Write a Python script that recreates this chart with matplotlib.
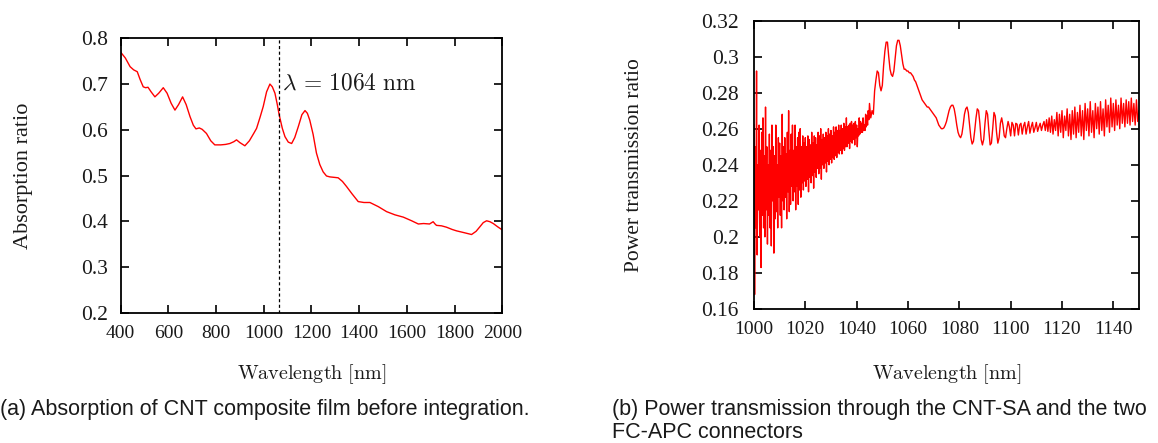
import matplotlib
matplotlib.use("Agg")
import matplotlib.pyplot as plt
import numpy as np

plt.rcParams['mathtext.fontset'] = 'cm'
plt.rcParams['font.family'] = ['Liberation Serif', 'DejaVu Serif']

# --- (a) absorption spectrum of the CNT film ---
abs_wl = [400, 420, 440, 455, 470, 482, 495, 505, 515, 528, 544, 560, 579, 595,
          612, 628, 643, 660, 675, 691, 705, 716, 730, 742, 760, 778, 795, 820,
          840, 858, 875, 886, 900, 921, 940, 958, 970, 985, 998, 1012, 1026,
          1036, 1047, 1057, 1065, 1078, 1089, 1103, 1117, 1130, 1145, 1160,
          1173, 1183, 1193, 1207, 1221, 1235, 1249, 1263, 1277, 1295, 1312,
          1330, 1347, 1370, 1396, 1420, 1445, 1480, 1515, 1550, 1585, 1620,
          1648, 1670, 1695, 1710, 1718, 1724, 1745, 1766, 1790, 1808, 1840,
          1871, 1890, 1906, 1920, 1934, 1948, 1962, 1980, 1997]
abs_val = [0.770, 0.757, 0.738, 0.731, 0.727, 0.710, 0.694, 0.692, 0.693, 0.683,
           0.672, 0.680, 0.692, 0.680, 0.658, 0.643, 0.655, 0.672, 0.655, 0.629,
           0.610, 0.602, 0.604, 0.601, 0.592, 0.576, 0.567, 0.567, 0.568, 0.570,
           0.574, 0.578, 0.572, 0.565, 0.576, 0.592, 0.603, 0.628, 0.651, 0.683,
           0.700, 0.694, 0.680, 0.655, 0.632, 0.603, 0.585, 0.573, 0.570, 0.583,
           0.607, 0.633, 0.642, 0.636, 0.621, 0.590, 0.549, 0.524, 0.508, 0.499,
           0.497, 0.496, 0.495, 0.487, 0.476, 0.460, 0.443, 0.441, 0.441, 0.432,
           0.421, 0.414, 0.409, 0.401, 0.394, 0.395, 0.394, 0.399, 0.394, 0.391,
           0.390, 0.387, 0.382, 0.379, 0.375, 0.371, 0.378, 0.388, 0.397, 0.401,
           0.399, 0.395, 0.388, 0.382]
laser_wl = 1064

# --- (b) power transmission ---
# 1000 - 1044.75 nm, every 0.25 nm : noisy part
tr_noisy = [0.262, 0.168, 0.250, 0.205, 0.292, 0.190, 0.240, 0.215,
            0.262, 0.200, 0.248, 0.183, 0.258, 0.212, 0.266, 0.205,
            0.245, 0.200, 0.272, 0.215, 0.250, 0.196, 0.240, 0.212,
            0.257, 0.205, 0.248, 0.195, 0.262, 0.220, 0.250, 0.191,
            0.245, 0.210, 0.262, 0.214, 0.240, 0.205, 0.255, 0.222,
            0.252, 0.212, 0.245, 0.205, 0.268, 0.220, 0.250, 0.215,
            0.255, 0.222, 0.246, 0.210, 0.258, 0.225, 0.270, 0.214,
            0.248, 0.218, 0.257, 0.228, 0.262, 0.220, 0.248, 0.225,
            0.262, 0.215, 0.250, 0.228, 0.255, 0.218, 0.258, 0.226,
            0.260, 0.222, 0.250, 0.230, 0.256, 0.226, 0.252, 0.231,
            0.255, 0.228, 0.250, 0.232, 0.256, 0.225, 0.254, 0.233,
            0.251, 0.230, 0.258, 0.234, 0.252, 0.227, 0.256, 0.236,
            0.255, 0.233, 0.251, 0.238, 0.258, 0.235, 0.256, 0.238,
            0.260, 0.232, 0.254, 0.240, 0.257, 0.238, 0.255, 0.241,
            0.258, 0.236, 0.256, 0.242, 0.260, 0.240, 0.257, 0.243,
            0.259, 0.241, 0.256, 0.244, 0.261, 0.243, 0.258, 0.245,
            0.261, 0.244, 0.259, 0.247, 0.262, 0.246, 0.259, 0.248,
            0.262, 0.246, 0.260, 0.249, 0.263, 0.248, 0.261, 0.250,
            0.266, 0.250, 0.261, 0.252, 0.262, 0.249, 0.263, 0.253,
            0.264, 0.252, 0.262, 0.254, 0.263, 0.251, 0.264, 0.255,
            0.262, 0.250, 0.260, 0.256, 0.266, 0.257, 0.264, 0.258,
            0.263, 0.258, 0.266, 0.259, 0.262, 0.259, 0.268, 0.261,
            0.267, 0.262, 0.270, 0.265]
# 1045 - 1099.5 nm, every 0.5 nm : absorption peak and fringes
tr_peak = [0.274, 0.266, 0.270, 0.268, 0.281, 0.287, 0.292, 0.291, 0.284, 0.281,
           0.284, 0.295, 0.303, 0.308, 0.308, 0.300, 0.293, 0.290, 0.289, 0.292,
           0.299, 0.306, 0.309, 0.309, 0.306, 0.301, 0.296, 0.293, 0.293, 0.292,
           0.292, 0.291, 0.291, 0.290, 0.289, 0.287, 0.286, 0.284, 0.282, 0.280,
           0.278, 0.276, 0.275, 0.274, 0.273, 0.272, 0.272, 0.271, 0.270, 0.269,
           0.268, 0.267, 0.266, 0.264, 0.262, 0.261, 0.260, 0.260, 0.2605, 0.262,
           0.264, 0.267, 0.270, 0.272, 0.273, 0.273, 0.271, 0.267, 0.262, 0.258,
           0.256, 0.255, 0.257, 0.262, 0.268, 0.271, 0.272, 0.269, 0.262, 0.255,
           0.2515, 0.253, 0.259, 0.266, 0.271, 0.270, 0.263, 0.254, 0.251, 0.254,
           0.263, 0.270, 0.268, 0.259, 0.251, 0.252, 0.260, 0.269, 0.267, 0.258,
           0.252, 0.255, 0.263, 0.266, 0.262, 0.256, 0.255, 0.260, 0.264, 0.261]
# 1100 - 1150 nm, every 0.5 nm : tail
tr_tail = [0.256, 0.2635, 0.262, 0.256, 0.263, 0.2625, 0.2565, 0.262, 0.263, 0.257,
           0.2615, 0.2635, 0.257, 0.261, 0.264, 0.2575, 0.261, 0.2635, 0.258, 0.2605,
           0.2635, 0.2585, 0.261, 0.263, 0.259, 0.262, 0.264, 0.259, 0.265, 0.2585,
           0.266, 0.258, 0.267, 0.257, 0.265, 0.259, 0.269, 0.256, 0.268, 0.258,
           0.270, 0.255, 0.267, 0.259, 0.271, 0.256, 0.268, 0.254, 0.270, 0.257,
           0.272, 0.255, 0.269, 0.258, 0.273, 0.256, 0.270, 0.254, 0.274, 0.259,
           0.271, 0.256, 0.275, 0.258, 0.270, 0.255, 0.274, 0.260, 0.272, 0.257,
           0.275, 0.259, 0.271, 0.256, 0.276, 0.261, 0.273, 0.258, 0.277, 0.261,
           0.274, 0.259, 0.276, 0.262, 0.273, 0.260, 0.277, 0.263, 0.274, 0.261,
           0.276, 0.263, 0.275, 0.262, 0.277, 0.264, 0.274, 0.262, 0.276, 0.264,
           0.270]

wl_noisy = 1000 + 0.25 * np.arange(len(tr_noisy))
wl_peak = 1045 + 0.5 * np.arange(len(tr_peak))
wl_tail = 1100 + 0.5 * np.arange(len(tr_tail))
tr_wl = np.concatenate([wl_noisy, wl_peak, wl_tail])
tr_val = np.array(tr_noisy + tr_peak + tr_tail)

TXT = '#1a1a1a'
fig = plt.figure(figsize=(11.58, 4.43), dpi=100)

def style_axes(ax):
    for s in ax.spines.values():
        s.set_linewidth(1.3)
    ax.tick_params(direction='in', top=True, right=True, length=6, width=1.2,
                   colors='black', labelcolor=TXT)
    ax.tick_params(axis='y', labelsize=15.5, pad=9)
    ax.tick_params(axis='x', labelsize=14, pad=9)

# left panel
ax1 = fig.add_axes([0.1041, 0.2941, 0.3297, 0.6194])
ax1.plot(abs_wl, abs_val, color='red', lw=1.0)
ax1.axvline(laser_wl, color='black', lw=0.9, ls=(0, (2.5, 2)))
ax1.text(1076, 0.70, r'$\lambda\,=\,1064\ \mathrm{nm}$', fontsize=16.8,
         va='center', ha='left', color=TXT)
ax1.set_xlim(400, 2000)
ax1.set_ylim(0.2, 0.8)
ax1.set_xticks(np.arange(400, 2001, 200))
ax1.set_yticks(np.arange(0.2, 0.81, 0.1))
ax1.set_yticklabels(['0.2', '0.3', '0.4', '0.5', '0.6', '0.7', '0.8'])
style_axes(ax1)
ax1.set_ylabel('Absorption ratio', fontsize=16, color=TXT)
ax1.yaxis.set_label_coords(-0.23, 0.5)
ax1.set_xlabel(r'$\mathrm{Wavelength}\ [\mathrm{nm}]$', fontsize=14.5, color=TXT)
ax1.xaxis.set_label_coords(0.5, -0.180)

# right panel
ax2 = fig.add_axes([0.6511, 0.3025, 0.3325, 0.6512])
ax2.plot(tr_wl, tr_val, color='red', lw=1.0)
ax2.set_xlim(1000, 1150)
ax2.set_ylim(0.16, 0.32)
ax2.set_xticks(np.arange(1000, 1141, 20))
yt = [0.16, 0.18, 0.2, 0.22, 0.24, 0.26, 0.28, 0.3, 0.32]
ax2.set_yticks(yt)
ax2.set_yticklabels(['0.16', '0.18', '0.2', '0.22', '0.24', '0.26', '0.28', '0.3', '0.32'])
style_axes(ax2)
ax2.tick_params(axis='y', pad=11)
ax2.set_ylabel('Power transmission ratio', fontsize=15.5, color=TXT)
ax2.yaxis.set_label_coords(-0.285, 0.5)
ax2.set_xlabel(r'$\mathrm{Wavelength}\ [\mathrm{nm}]$', fontsize=14.5, color=TXT)
ax2.xaxis.set_label_coords(0.5, -0.184)

# captions
cap_kw = dict(fontsize=15.5, family='Liberation Sans', va='center', ha='left', color=TXT)
fig.text(0.0, 0.0745, '(a) Absorption of CNT composite film before integration.', **cap_kw)
fig.text(0.5285, 0.0745, '(b) Power transmission through the CNT-SA and the two', **cap_kw)
fig.text(0.5285, 0.0248, 'FC-APC connectors', **cap_kw)

fig.savefig('out.png', dpi=100)
